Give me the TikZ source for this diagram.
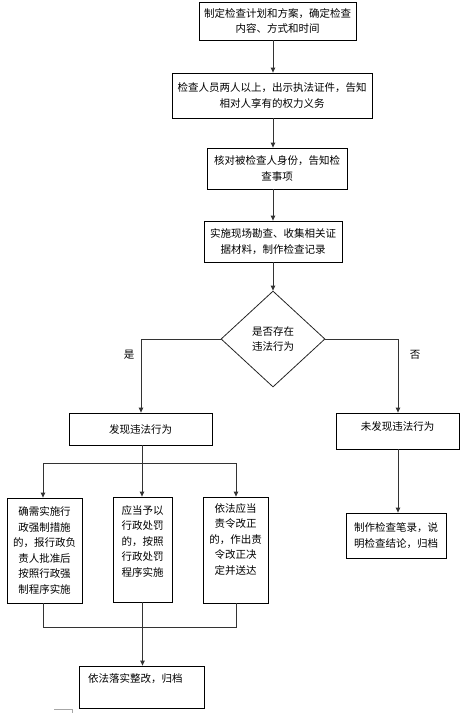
\documentclass[tikz,border=0pt]{standalone}
\usepackage{fontspec}
\setmainfont{Noto Sans CJK SC}
\usetikzlibrary{shapes.geometric,arrows.meta}
\begin{document}
\begin{tikzpicture}[x=1pt,y=-1pt,
  font=\fontsize{10.5}{15.5}\selectfont,
  box/.style={draw=black, line width=0.8pt, align=center, inner sep=2pt},
  txt/.style={align=center, inner sep=0pt},
  conn/.style={draw=black!80, line width=0.9pt},
  arr/.style={conn, -{Triangle[length=5pt,width=4.5pt]}}]
\useasboundingbox (0,0) rectangle (468,713);

\node[box, minimum width=157, minimum height=38] (b1) at (277.5,21) {制定检查计划和方案，确定检查\\内容、方式和时间};
\node[box, minimum width=200, minimum height=45] (b2) at (272,95.5) {检查人员两人以上，出示执法证件，告知\\相对人享有的权力义务};
\node[box, minimum width=140, minimum height=41] (b3) at (277,168.5) {核对被检查人身份，告知检\\查事项};
\node[box, minimum width=138, minimum height=41] (b4) at (273,241.5) {实施现场勘查、收集相关证\\据材料，制作检查记录};
\node[draw=black!85, line width=0.8pt, diamond, inner sep=0pt, minimum width=104, minimum height=96, align=center] (dia) at (273,339) {是否存在\\违法行为};

\node[box, minimum width=143, minimum height=32] (b5) at (140.5,429) {发现违法行为};
\node[box, minimum width=123, minimum height=36] (b6) at (397.5,431) {};
\node[txt] (t6) at (397.5,426) {未发现违法行为};
\node[box, minimum width=100, minimum height=45] (b7) at (396,535.5) {制作检查笔录，说\\明检查结论，归档};

\node[box, minimum width=75, minimum height=105] (ba) at (44.5,550.5) {确需实施行\\政强制措施\\的，报行政负\\责人批准后\\按照行政强\\制程序实施};
\node[box, minimum width=59, minimum height=105] (bb) at (142.5,549.5) {};
\node[txt] (tb) at (142.5,541) {应当予以\\行政处罚\\的，按照\\行政处罚\\程序实施};
\node[box, minimum width=65, minimum height=106] (bc) at (235.5,550) {};
\node[txt] (tc) at (235.5,539) {依法应当\\责令改正\\的，作出责\\令改正决\\定并送达};

\node[box, minimum width=125, minimum height=42] (fin) at (141.5,687) {};
\node[txt, anchor=west] (tf) at (88,679) {依法落实整改，归档};

% main column
\draw[arr] (b1.south -| dia) -- (b2.north -| dia);
\draw[arr] (b2.south -| dia) -- (b3.north -| dia);
\draw[arr] (b3.south -| dia) -- (b4.north -| dia);
\draw[arr] (b4.south -| dia) -- (dia.north);

% branches
\coordinate (lb) at (141,339);
\coordinate (rb) at (398,339);
\draw[arr] (dia.west) -- (lb) -- (lb |- b5.north);
\draw[arr] (dia.east) -- (rb) -- (rb |- b6.north);
\node[txt] (yes) at (129,355) {是};
\node[txt] (no) at (415,355) {否};
\draw[arr] (rb |- b6.south) -- (rb |- b7.north);

% split to three
\coordinate (j1) at (142,463);
\coordinate (ja) at (43,463);
\coordinate (jc) at (236,463);
\draw[conn] (j1 |- b5.south) -- (j1);
\draw[conn] (ja) -- (jc);
\draw[arr] (ja) -- (ja |- ba.north);
\draw[arr] (j1) -- (j1 |- bb.north);
\draw[arr] (jc) -- (jc |- bc.north);

% merge
\coordinate (ka) at (43,627);
\coordinate (k1) at (142.5,627);
\coordinate (kc) at (236,627);
\draw[conn] (ka |- ba.south) -- (ka) -- (kc) -- (kc |- bc.south);
\draw[conn] (k1 |- bb.south) -- (k1);
\draw[arr] (k1) -- (k1 |- fin.north);

% corner mark
\coordinate (m1) at (54,709);
\coordinate (m2) at (72,709);
\coordinate (m3) at (72,713);
\draw[black!35, line width=0.8pt] (m1) -- (m2) -- (m3);
\end{tikzpicture}
\end{document}
